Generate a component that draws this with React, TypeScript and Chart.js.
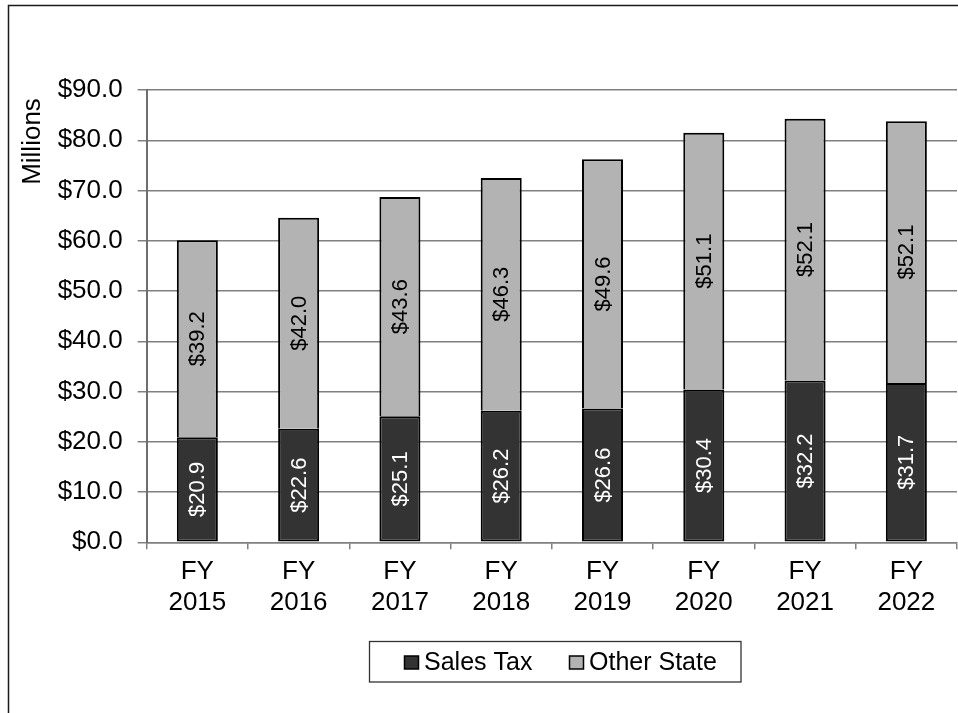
import { useEffect, useRef } from 'react';
import { Chart, registerables } from 'chart.js';

Chart.register(...registerables);

// Fiscal years shown along the x axis (two-line labels)
const categories: string[][] = [
  ['FY', '2015'], ['FY', '2016'], ['FY', '2017'], ['FY', '2018'],
  ['FY', '2019'], ['FY', '2020'], ['FY', '2021'], ['FY', '2022'],
];

// Revenue in millions of dollars
const salesTax = [20.9, 22.6, 25.1, 26.2, 26.6, 30.4, 32.2, 31.7];
const otherState = [39.2, 42.0, 43.6, 46.3, 49.6, 51.1, 52.1, 52.1];

const seriesNames = ['Sales Tax', 'Other State'];
const seriesColors = ['#333333', '#b3b3b3'];
const labelColors = ['#ffffff', '#000000'];

const yMin = 0;
const yMax = 90;
const yStep = 10;
const yTitle = 'Millions';

const FONT = '"Liberation Sans", Arial, Helvetica, sans-serif';
const GRID = '#808080';

const fmt = (v: number) => '$' + v.toFixed(1);

// White page, outer frame, axis title and the boxed legend
const decorations = {
  id: 'decorations',
  beforeDraw(chart: any) {
    const { ctx, width, height } = chart;
    ctx.save();
    ctx.fillStyle = '#ffffff';
    ctx.fillRect(0, 0, width, height);
    ctx.strokeStyle = '#1a1a1a';
    ctx.lineWidth = 1.5;
    ctx.strokeRect(8.5, 5.5, width + 20, height + 20);
    ctx.restore();
  },
  afterDraw(chart: any) {
    const { ctx } = chart;
    ctx.save();
    // y axis title
    ctx.translate(33, 141.5);
    ctx.rotate(-Math.PI / 2);
    ctx.font = `26px ${FONT}`;
    ctx.fillStyle = '#000';
    ctx.textAlign = 'center';
    ctx.textBaseline = 'middle';
    ctx.fillText(yTitle, 0, 0);
    ctx.restore();

    // legend
    ctx.save();
    const bx = 369.5, by = 641.5, bw = 371.5, bh = 40.5;
    ctx.strokeStyle = '#333';
    ctx.lineWidth = 1.3;
    ctx.strokeRect(bx, by, bw, bh);
    ctx.font = `25px ${FONT}`;
    ctx.textBaseline = 'middle';
    ctx.textAlign = 'left';
    const itemX = [404.5, 569.5];
    chart.data.datasets.forEach((ds: any, i: number) => {
      const x = itemX[i];
      ctx.fillStyle = ds.backgroundColor;
      ctx.fillRect(x, 656, 14, 13);
      ctx.strokeStyle = '#000';
      ctx.lineWidth = 1.5;
      ctx.strokeRect(x, 656, 14, 13);
      ctx.fillStyle = '#000';
      ctx.fillText(ds.label, x + 19.5, 663);
    });
    ctx.restore();
  },
};

// Rotated value labels centred in each stacked segment
const valueLabels = {
  id: 'valueLabels',
  afterDatasetsDraw(chart: any) {
    const { ctx } = chart;
    ctx.save();
    ctx.font = `22px ${FONT}`;
    ctx.textAlign = 'center';
    ctx.textBaseline = 'middle';
    chart.data.datasets.forEach((ds: any, di: number) => {
      const meta = chart.getDatasetMeta(di);
      meta.data.forEach((el: any, i: number) => {
        const { x, y, base } = el.getProps(['x', 'y', 'base'], true);
        ctx.save();
        ctx.translate(x + 1, (y + base) / 2);
        ctx.rotate(-Math.PI / 2);
        ctx.fillStyle = labelColors[di];
        ctx.fillText(fmt(ds.data[i]), 0, 0);
        ctx.restore();
      });
    });
    ctx.restore();
  },
};

export default function App() {
  const ref = useRef<HTMLCanvasElement | null>(null);

  useEffect(() => {
    if (!ref.current) return;
    const chart = new Chart(ref.current, {
      type: 'bar',
      data: {
        labels: categories,
        datasets: [
          {
            label: seriesNames[0],
            data: salesTax,
            backgroundColor: seriesColors[0],
            borderColor: '#000',
            borderWidth: 2,
            borderSkipped: false,
            barPercentage: 0.405,
            categoryPercentage: 1,
          },
          {
            label: seriesNames[1],
            data: otherState,
            backgroundColor: seriesColors[1],
            borderColor: '#000',
            borderWidth: 2,
            borderSkipped: 'start',
            barPercentage: 0.405,
            categoryPercentage: 1,
          },
        ],
      },
      options: {
        responsive: false,
        animation: false,
        devicePixelRatio: 1,
        layout: { padding: { left: 0, top: 90, right: 1, bottom: 0 } },
        plugins: {
          legend: { display: false },
          tooltip: { enabled: false },
        },
        scales: {
          x: {
            stacked: true,
            grid: {
              offset: true,
              drawOnChartArea: true,
              color: (c: any) => (c.index === categories.length ? GRID : 'rgba(0,0,0,0)'),
              tickColor: GRID,
              lineWidth: 1.5,
              tickLength: 7,
            },
            border: { display: true, color: GRID, width: 1.5 },
            ticks: {
              color: '#000',
              font: { family: FONT, size: 26, lineHeight: 1.2 },
              padding: 7,
              maxRotation: 0,
              autoSkip: false,
            },
            afterFit: (s: any) => { s.height = 713 - 542.3; },
          },
          y: {
            stacked: true,
            min: yMin,
            max: yMax,
            grid: { color: GRID, lineWidth: 1.5, tickLength: 9 },
            border: { display: true, color: '#6e6e6e', width: 2 },
            ticks: {
              stepSize: yStep,
              color: '#000',
              font: { family: FONT, size: 26 },
              padding: 15,
              callback: (v: any) => fmt(Number(v)),
            },
            afterFit: (s: any) => { s.width = 146.7; },
          },
        },
      },
      plugins: [decorations, valueLabels],
    });
    return () => chart.destroy();
  }, []);

  return (
    <div style={{ position: 'absolute', left: 0, top: 0, width: 958, height: 713 }}>
      <canvas ref={ref} width={958} height={713} style={{ display: 'block' }} />
    </div>
  );
}
